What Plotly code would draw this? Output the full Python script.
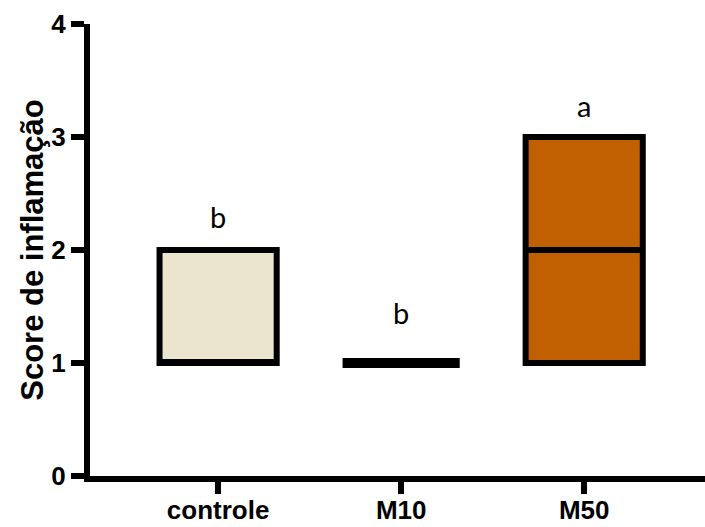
import plotly.graph_objects as go

# Group summary statistics (inflammation score)
groups = ["controle", "M10", "M50"]
q1 = [1, 1, 1]
median = [1, 1, 2]
q3 = [2, 1, 3]
fill_colors = ["#EAE5CC", "#000000", "#C06000"]
edge_widths = [6, 10, 6]

# Significance letters and the height where they sit
letters = ["b", "b", "a"]
letter_y = [2.3, 1.45, 3.28]

fig = go.Figure()
for g, a, m, b, fc, lw in zip(groups, q1, median, q3, fill_colors, edge_widths):
    fig.add_trace(go.Box(
        x=[g], q1=[a], median=[m], q3=[b],
        lowerfence=[a], upperfence=[b],
        fillcolor=fc,
        line=dict(color="black", width=lw),
        whiskerwidth=0,
        width=0.64,
        boxpoints=False,
        hoverinfo="skip",
        showlegend=False,
    ))

for g, t, yv in zip(groups, letters, letter_y):
    fig.add_annotation(
        x=g, y=yv, text=t, showarrow=False,
        font=dict(family="Lato, Liberation Sans", size=29, color="black"),
        xanchor="center", yanchor="middle",
    )

fig.update_layout(
    width=705, height=527,
    margin=dict(l=90, r=0, t=24, b=51),
    paper_bgcolor="white",
    plot_bgcolor="white",
    boxmode="overlay",
    xaxis=dict(
        type="category",
        categoryorder="array",
        categoryarray=groups,
        range=[-0.70, 2.66],
        automargin=False,
        showgrid=False, zeroline=False,
        showline=True, linecolor="black", linewidth=6,
        ticks="outside", ticklen=12, tickwidth=6, tickcolor="black",
        ticklabelstandoff=-6,
        tickfont=dict(family="Liberation Sans, Arial", size=26, color="black", weight="bold"),
    ),
    yaxis=dict(
        range=[0, 4],
        tickvals=[0, 1, 2, 3, 4],
        automargin=False,
        showgrid=False, zeroline=False,
        showline=True, linecolor="black", linewidth=6,
        ticks="outside", ticklen=13, tickwidth=6, tickcolor="black",
        tickfont=dict(family="Liberation Sans, Arial", size=26, color="black", weight="bold"),
        title=dict(
            text="Score de inflamação",
            font=dict(family="Liberation Sans, Arial", size=31, color="black", weight="bold"),
            standoff=0,
        ),
    ),
)

fig.write_html("out.html")
